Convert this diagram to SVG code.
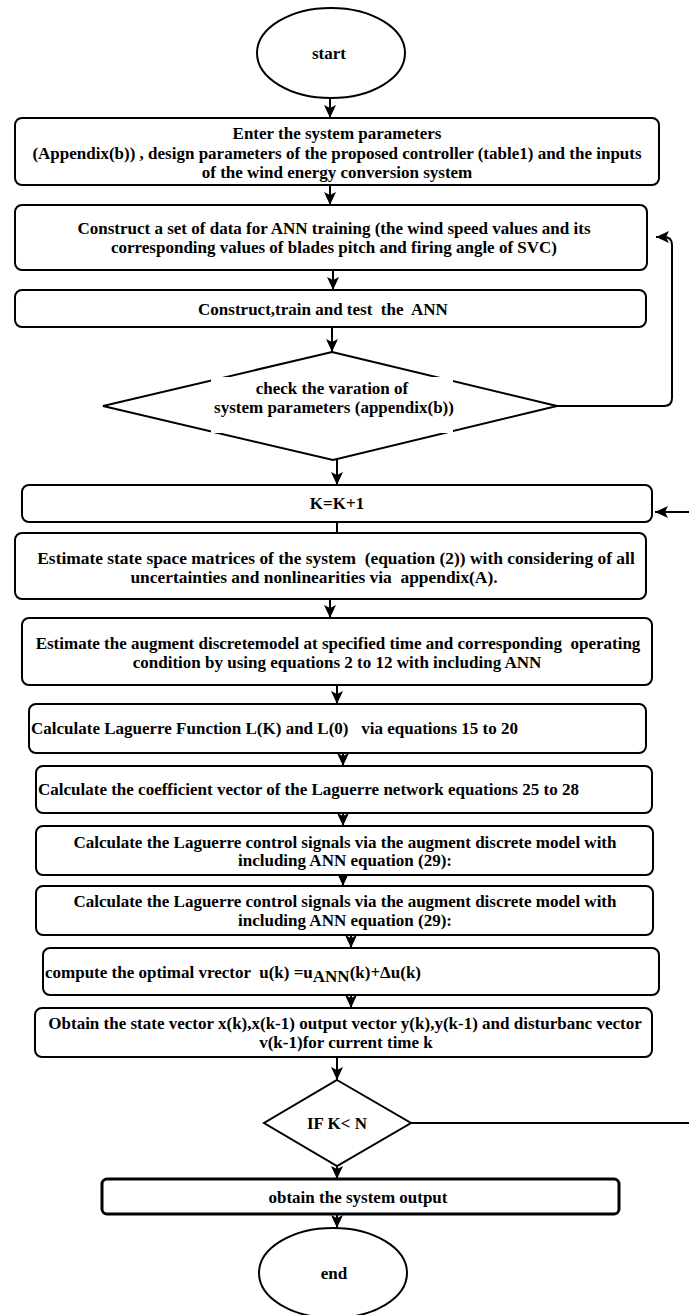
<svg xmlns="http://www.w3.org/2000/svg" width="689" height="1315" viewBox="0 0 689 1315">
<defs>
<marker id="ah" markerUnits="userSpaceOnUse" markerWidth="13" markerHeight="12" refX="13" refY="6" orient="auto">
<path d="M0,0 L13,6 L0,12 L3,6 Z" fill="#000"/>
</marker>
<style>
.bx{fill:#fff;stroke:#000;stroke-width:2}
.thick{stroke-width:3}
.ln{fill:none;stroke:#000;stroke-width:2}
.ar{marker-end:url(#ah)}
.t{font-family:"Liberation Serif","Times New Roman",serif;font-weight:bold;font-size:17px;fill:#000}
.c{text-anchor:middle}
</style>
</defs>
<rect width="689" height="1315" fill="#fff"/>

<g id="connectors">
<path class="ln ar" d="M330,98 V118"/>
<path class="ln ar" d="M330,185 V205"/>
<path class="ln ar" d="M333,270 V290"/>
<path class="ln ar" d="M332,327 V352"/>
<path class="ln ar" d="M557,406 H664 Q672,406 672,398 V245 Q672,237 664,237 H656"/>
<path class="ln ar" d="M337,460 V485"/>
<path class="ln" d="M337,522 V533"/>
<path class="ln ar" d="M330,595 V618"/>
<path class="ln ar" d="M337,685 V704"/>
<path class="ln ar" d="M343,748 V766"/>
<path class="ln ar" d="M343,809 V826"/>
<path class="ln ar" d="M343,868 V886"/>
<path class="ln ar" d="M351,925 V948"/>
<path class="ln ar" d="M351,985 V1008"/>
<path class="ln ar" d="M337,1057 V1080"/>
<path class="ln ar" d="M337,1155 V1179"/>
<path class="ln ar" d="M337,1205 V1228"/>
<path class="ln ar" d="M411,1123 H700 V512 H655"/>
</g>

<g id="start">
<ellipse class="bx" cx="331" cy="53" rx="74" ry="45"/>
<text class="t c" x="329" y="59">start</text>
</g>

<g id="enter-params">
<rect class="bx" x="15" y="118" width="644" height="67" rx="7"/>
<text class="t c" x="337" y="139">Enter the system parameters</text>
<text class="t c" x="337" y="159">(Appendix(b)) , design parameters of the proposed controller (table1) and the inputs</text>
<text class="t c" x="337" y="178">of the wind energy conversion system</text>
</g>

<g id="construct-data">
<rect class="bx" x="15" y="205" width="632" height="65" rx="7"/>
<text class="t c" x="334" y="234">Construct a set of data for ANN training (the wind speed values and its</text>
<text class="t c" x="334" y="253">corresponding values of blades pitch and firing angle of SVC)</text>
</g>

<g id="train-ann">
<rect class="bx" x="15" y="290" width="631" height="37" rx="7"/>
<text class="t c" x="323" y="315" xml:space="preserve">Construct,train and test  the  ANN</text>
</g>

<g id="check-variation">
<polygon class="bx" points="332,352 557,406 333,460 103,406"/>
<rect x="211" y="377" width="242" height="56" fill="#fff"/>
<text class="t c" x="332" y="394">check the varation of</text>
<text class="t c" x="334" y="413">system parameters (appendix(b))</text>
</g>

<g id="k-increment">
<rect class="bx" x="22" y="485" width="630" height="37" rx="7"/>
<text class="t c" x="337" y="509">K=K+1</text>
</g>

<g id="estimate-state-space">
<rect class="bx" x="15" y="533" width="631" height="66" rx="7"/>
<text class="t c" x="336" y="564" xml:space="preserve" style="font-size:17.4px">Estimate state space matrices of the system  (equation (2)) with considering of all</text>
<text class="t c" x="314" y="583" xml:space="preserve" style="font-size:17.4px">uncertainties and nonlinearities via  appendix(A).</text>
</g>

<g id="estimate-augment">
<rect class="bx" x="22" y="618" width="630" height="67" rx="7"/>
<text class="t c" x="338" y="649" xml:space="preserve">Estimate the augment discretemodel at specified time and corresponding  operating</text>
<text class="t c" x="337" y="668">condition by using equations 2 to 12 with including ANN</text>
</g>

<g id="laguerre-function">
<rect class="bx" x="29" y="704" width="617" height="49" rx="7"/>
<text class="t" x="31" y="734" xml:space="preserve">Calculate Laguerre Function L(K) and L(0)   via equations 15 to 20</text>
</g>

<g id="coefficient-vector">
<rect class="bx" x="36" y="766" width="616" height="47" rx="7"/>
<text class="t" x="38" y="795">Calculate the coefficient vector of the Laguerre network equations 25 to 28</text>
</g>

<g id="control-signals-1">
<rect class="bx" x="36" y="826" width="617" height="49" rx="7"/>
<text class="t c" x="345" y="848">Calculate the Laguerre control signals via the augment discrete model with</text>
<text class="t c" x="345" y="866">including ANN equation (29):</text>
</g>

<g id="control-signals-2">
<rect class="bx" x="36" y="886" width="617" height="49" rx="7"/>
<text class="t c" x="345" y="907">Calculate the Laguerre control signals via the augment discrete model with</text>
<text class="t c" x="345" y="926">including ANN equation (29):</text>
</g>

<g id="optimal-vector">
<rect class="bx" x="43" y="948" width="616" height="47" rx="7"/>
<text class="t" x="45" y="978" xml:space="preserve">compute the optimal vrector  u(k) =u<tspan dy="4">ANN</tspan><tspan dy="-4">(k)+Δu(k)</tspan></text>
</g>

<g id="obtain-state">
<rect class="bx" x="35" y="1008" width="617" height="49" rx="7"/>
<text class="t c" x="345" y="1029">Obtain the state vector x(k),x(k-1) output vector y(k),y(k-1) and disturbanc vector</text>
<text class="t c" x="346" y="1048">v(k-1)for current time k</text>
</g>

<g id="if-k-less-n">
<polygon class="bx" points="337,1080 411,1123 337,1166 264,1123"/>
<text class="t c" x="337" y="1129">IF K&lt; N</text>
</g>

<g id="system-output">
<rect class="bx thick" x="102" y="1179" width="517" height="35" rx="5"/>
<text class="t c" x="358" y="1203">obtain the system output</text>
</g>

<g id="end">
<ellipse class="bx" cx="333" cy="1273" rx="74" ry="45"/>
<text class="t c" x="334" y="1279">end</text>
</g>
</svg>
